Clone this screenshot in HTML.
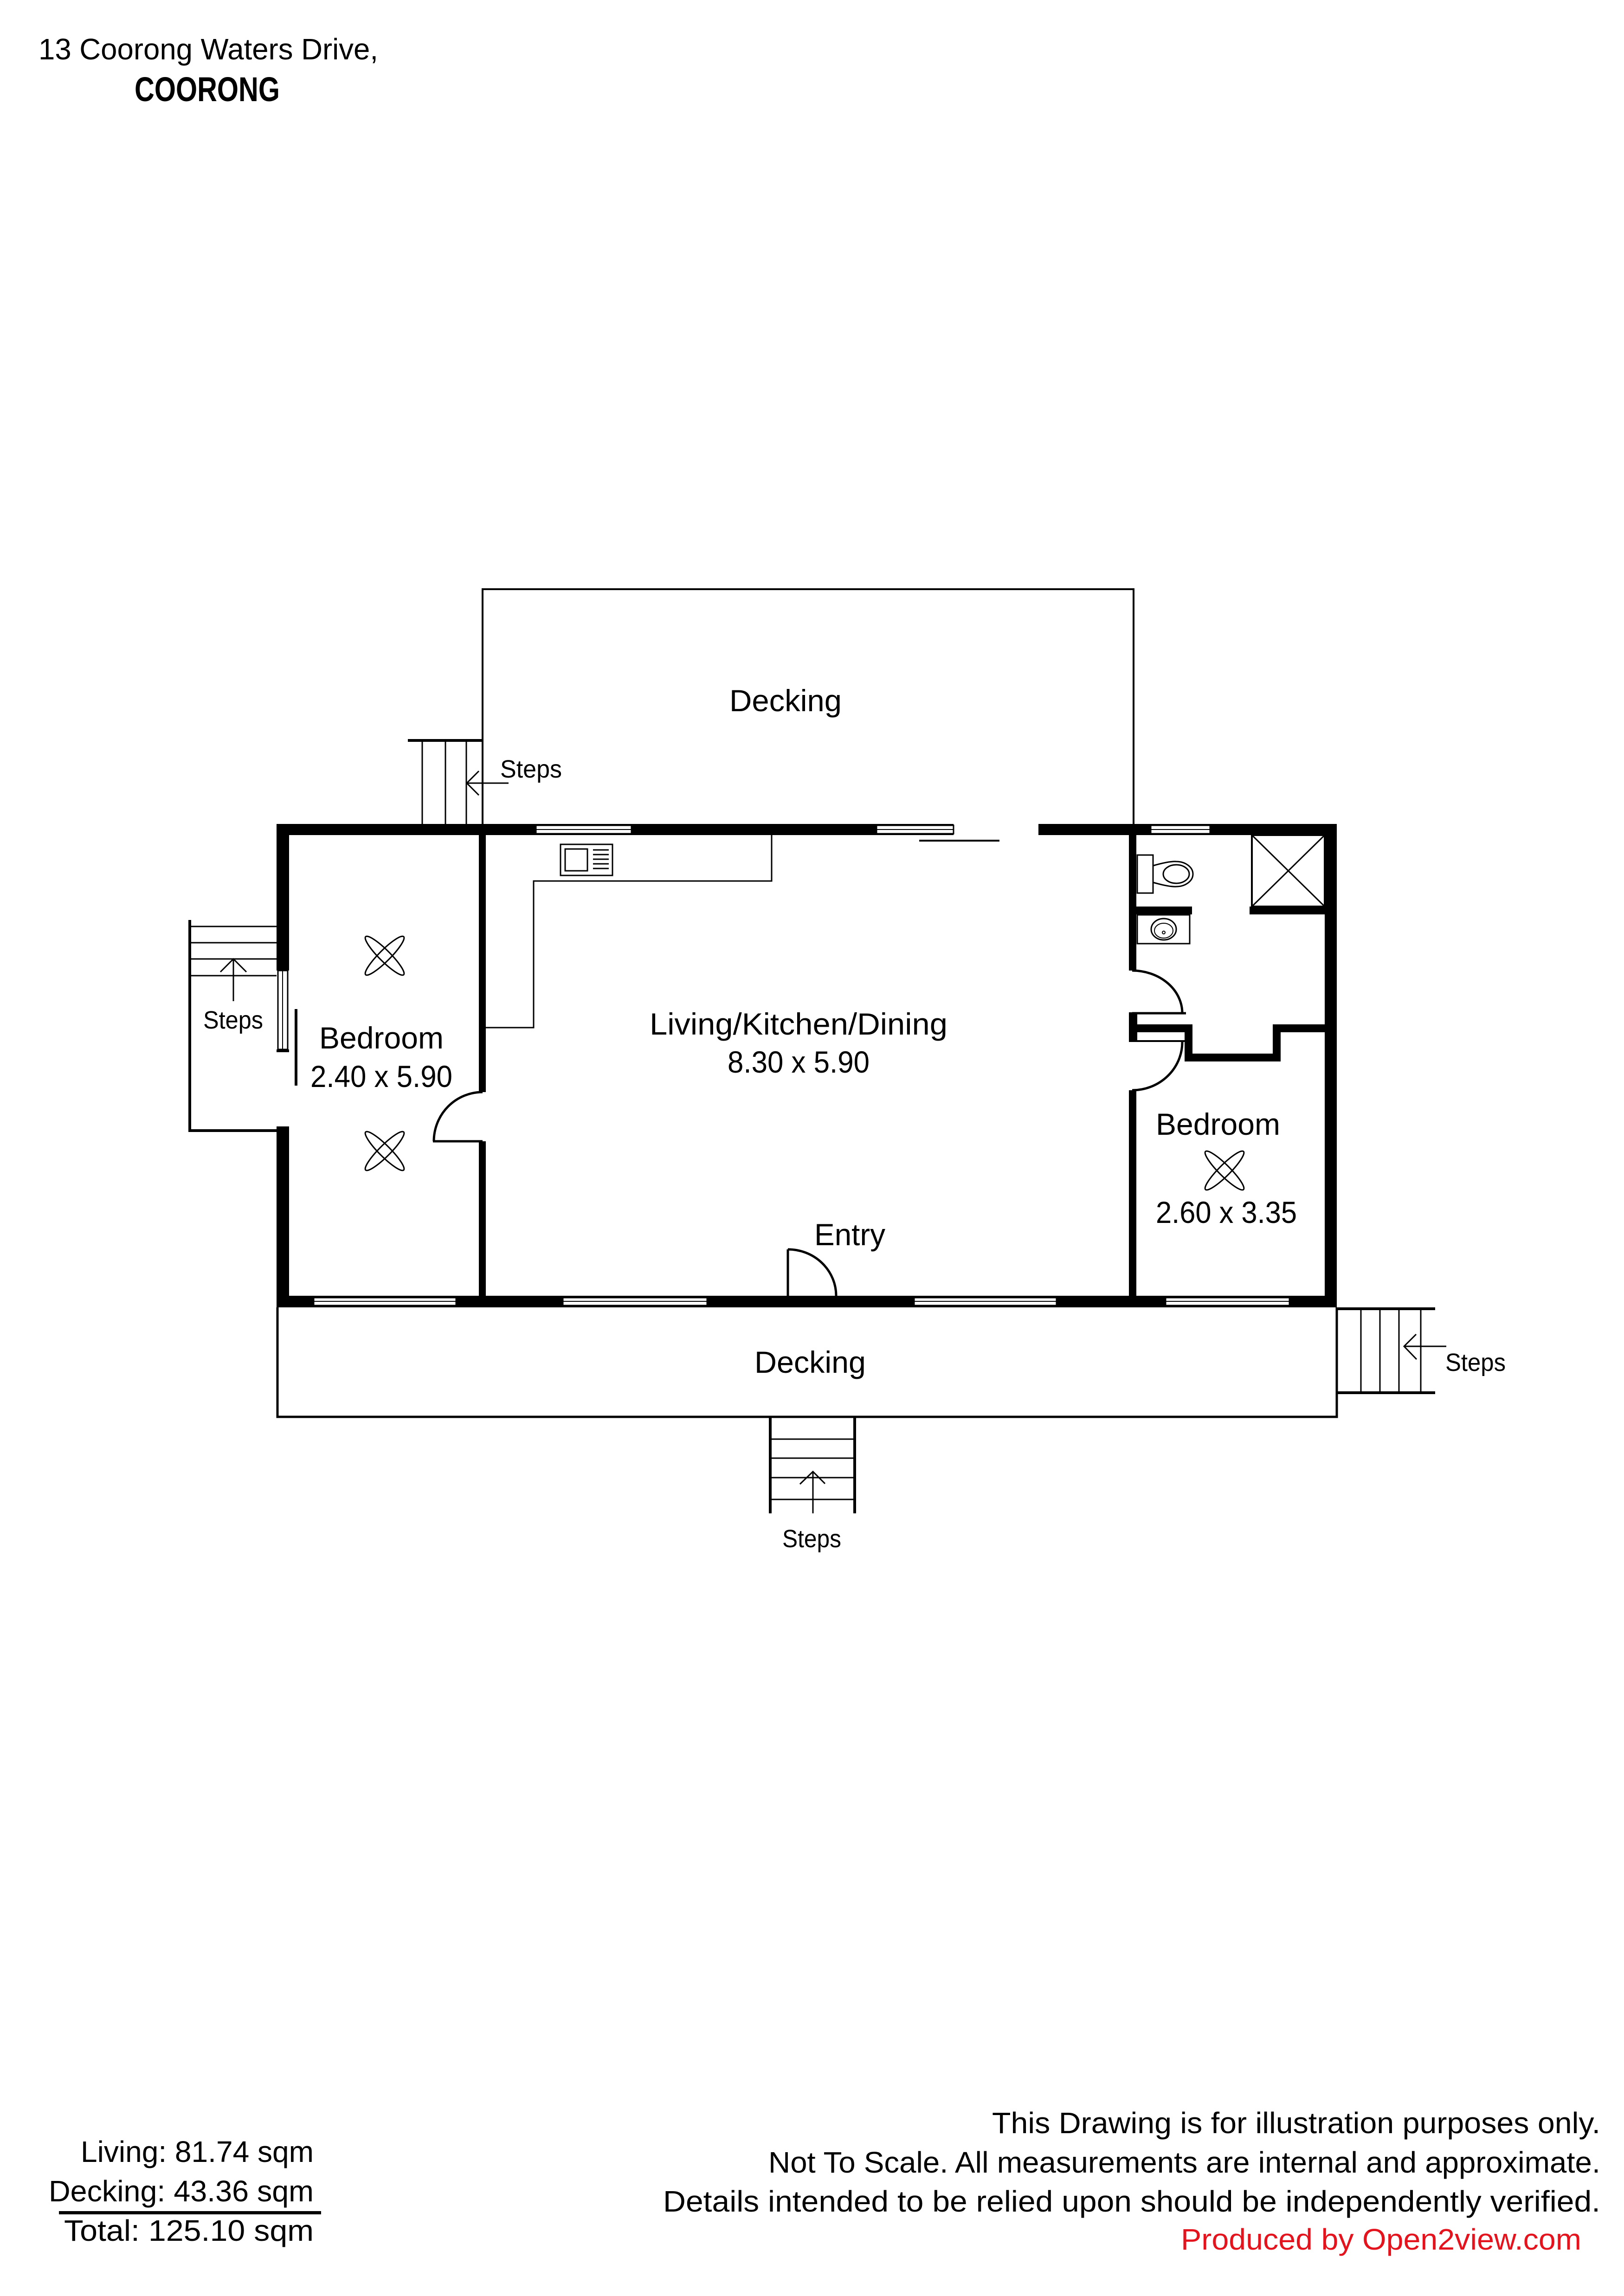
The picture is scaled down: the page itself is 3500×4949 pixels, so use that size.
<!DOCTYPE html>
<html><head><meta charset="utf-8"><style>
html,body{margin:0;padding:0;background:#fff;}
svg{display:block;}
text{font-family:"Liberation Sans",sans-serif;fill:#000;}
</style></head><body>
<svg width="3500" height="4949" viewBox="0 0 3500 4949" xmlns="http://www.w3.org/2000/svg">
<rect width="3500" height="4949" fill="#fff"/>
<!-- header -->
<text x="83" y="128" font-size="64" textLength="732" lengthAdjust="spacingAndGlyphs">13 Coorong Waters Drive,</text>
<text x="290" y="218" font-size="74" font-weight="bold" textLength="313" lengthAdjust="spacingAndGlyphs">COORONG</text>

<g fill="none" stroke="#000">
<!-- top decking -->
<polyline points="1040,1776 1040,1270 2443,1270 2443,1776" stroke-width="4"/>
<!-- top steps -->
<line x1="879" y1="1596" x2="1042" y2="1596" stroke-width="6"/>
<line x1="910" y1="1596" x2="910" y2="1776" stroke-width="3"/>
<line x1="960" y1="1596" x2="960" y2="1776" stroke-width="3"/>
<line x1="1005" y1="1596" x2="1005" y2="1776" stroke-width="3"/>
<line x1="1006" y1="1688" x2="1096" y2="1688" stroke-width="3"/>
<polyline points="1032,1662 1006,1688 1032,1714" stroke-width="3"/>
<!-- left steps -->
<polyline points="409,1983 409,2437 598,2437" stroke-width="6"/>
<line x1="409" y1="1997" x2="596" y2="1997" stroke-width="3"/>
<line x1="409" y1="2032" x2="596" y2="2032" stroke-width="3"/>
<line x1="409" y1="2067" x2="596" y2="2067" stroke-width="3"/>
<line x1="409" y1="2103" x2="596" y2="2103" stroke-width="3"/>
<line x1="503" y1="2067" x2="503" y2="2158" stroke-width="3"/>
<polyline points="475,2095 503,2067 531,2095" stroke-width="3"/>
<line x1="638" y1="2175" x2="638" y2="2340" stroke-width="6"/>
<!-- lower decking -->
<polyline points="598,2818 598,3054 2881,3054 2881,2818" stroke-width="5"/>
<!-- right steps -->
<line x1="2881" y1="2821" x2="3093" y2="2821" stroke-width="6"/>
<line x1="2881" y1="3002" x2="3093" y2="3002" stroke-width="6"/>
<line x1="2933" y1="2821" x2="2933" y2="3002" stroke-width="3"/>
<line x1="2974" y1="2821" x2="2974" y2="3002" stroke-width="3"/>
<line x1="3015" y1="2821" x2="3015" y2="3002" stroke-width="3"/>
<line x1="3062" y1="2821" x2="3062" y2="3002" stroke-width="3"/>
<line x1="3026" y1="2902" x2="3117" y2="2902" stroke-width="3"/>
<polyline points="3052,2876 3026,2902 3053,2930" stroke-width="3"/>
<!-- bottom steps -->
<line x1="1660" y1="3054" x2="1660" y2="3262" stroke-width="6"/>
<line x1="1842" y1="3054" x2="1842" y2="3262" stroke-width="6"/>
<line x1="1660" y1="3102" x2="1842" y2="3102" stroke-width="3"/>
<line x1="1660" y1="3143" x2="1842" y2="3143" stroke-width="3"/>
<line x1="1660" y1="3185" x2="1842" y2="3185" stroke-width="3"/>
<line x1="1660" y1="3232" x2="1842" y2="3232" stroke-width="3"/>
<line x1="1752" y1="3172" x2="1752" y2="3262" stroke-width="3"/>
<polyline points="1724,3199 1752,3172 1778,3198" stroke-width="3"/>
<!-- kitchen bench -->
<polyline points="1047,2215 1150,2215 1150,1899 1663,1899 1663,1800" stroke-width="3"/>
<rect x="1208" y="1820" width="112" height="67" stroke-width="3"/>
<rect x="1218" y="1830" width="48" height="47" stroke-width="3"/>
<line x1="1278" y1="1832" x2="1312" y2="1832" stroke-width="3"/>
<line x1="1278" y1="1842" x2="1312" y2="1842" stroke-width="3"/>
<line x1="1278" y1="1852" x2="1312" y2="1852" stroke-width="3"/>
<line x1="1278" y1="1862" x2="1312" y2="1862" stroke-width="3"/>
<line x1="1278" y1="1872" x2="1312" y2="1872" stroke-width="3"/>
<!-- sliding door -->
<line x1="1981" y1="1812" x2="2154" y2="1812" stroke-width="4"/>
<!-- entry door -->
<line x1="1698" y1="2693" x2="1698" y2="2795" stroke-width="5"/>
<path d="M1698,2693 A104,100 0 0 1 1802,2793" stroke-width="5"/>
<!-- bedroom1 door -->
<line x1="933" y1="2460" x2="1040" y2="2460" stroke-width="5"/>
<path d="M935,2460 A105,106 0 0 1 1040,2354" stroke-width="5"/>
<!-- bath door -->
<path d="M2440,2092 A108,92 0 0 1 2548,2184" stroke-width="5"/>
<line x1="2440" y1="2184" x2="2556" y2="2184" stroke-width="5"/>
<!-- bedroom2 door -->
<line x1="2451" y1="2244" x2="2553" y2="2244" stroke-width="4"/>
<path d="M2548,2246 A108,104 0 0 1 2440,2350" stroke-width="5"/>
<!-- shower -->
<rect x="2698" y="1800" width="157" height="154" stroke-width="4"/>
<line x1="2698" y1="1800" x2="2855" y2="1954" stroke-width="3"/>
<line x1="2855" y1="1800" x2="2698" y2="1954" stroke-width="3"/>
<!-- toilet -->
<rect x="2451" y="1843" width="34" height="82" stroke-width="3"/>
<path d="M2485,1866 Q2520,1856 2535,1857 A36,27 0 1 1 2535,1911 Q2520,1912 2485,1902" stroke-width="3"/>
<ellipse cx="2535" cy="1884" rx="28" ry="20" stroke-width="3"/>
<!-- vanity -->
<rect x="2451" y="1972" width="113" height="62" stroke-width="3"/>
<ellipse cx="2508" cy="2003" rx="27" ry="23" stroke-width="3"/>
<ellipse cx="2508" cy="2006" rx="20" ry="16" stroke-width="2"/>
<circle cx="2508" cy="2010" r="3" stroke-width="2"/>
<!-- fans -->
<g stroke-width="3">
<ellipse cx="829" cy="2060" rx="58" ry="12" transform="rotate(45 829 2060)"/>
<ellipse cx="829" cy="2060" rx="58" ry="12" transform="rotate(-45 829 2060)"/>
<ellipse cx="829" cy="2481" rx="58" ry="12" transform="rotate(45 829 2481)"/>
<ellipse cx="829" cy="2481" rx="58" ry="12" transform="rotate(-45 829 2481)"/>
<ellipse cx="2639" cy="2523" rx="58" ry="12" transform="rotate(45 2639 2523)"/>
<ellipse cx="2639" cy="2523" rx="58" ry="12" transform="rotate(-45 2639 2523)"/>
</g>
</g>

<!-- walls -->
<g fill="#000">
<rect x="596" y="1776" width="1459" height="24"/>
<rect x="2238" y="1776" width="643" height="24"/>
<rect x="596" y="1776" width="27" height="316"/>
<rect x="596" y="2262" width="27" height="6"/>
<rect x="596" y="2428" width="27" height="390"/>
<rect x="2855" y="1776" width="26" height="1042"/>
<rect x="596" y="2793" width="2285" height="25"/>
<rect x="1032" y="1800" width="15" height="554"/>
<rect x="1032" y="2460" width="15" height="333"/>
<rect x="2433" y="1800" width="16" height="292"/>
<rect x="2433" y="2182" width="18" height="64"/>
<rect x="2433" y="2350" width="16" height="443"/>
<rect x="2433" y="2208" width="137" height="17"/>
<rect x="2553" y="2208" width="17" height="80"/>
<rect x="2553" y="2271" width="207" height="17"/>
<rect x="2743" y="2208" width="17" height="80"/>
<rect x="2743" y="2208" width="112" height="17"/>
<rect x="2433" y="1954" width="136" height="17"/>
<rect x="2693" y="1954" width="162" height="17"/>
</g>
<!-- windows -->
<g fill="#fff" stroke="#000" stroke-width="3">
<rect x="1155" y="1779" width="206" height="18"/><line x1="1155" y1="1788" x2="1361" y2="1788" stroke-width="2"/>
<rect x="1889" y="1779" width="166" height="18"/><line x1="1889" y1="1788" x2="2055" y2="1788" stroke-width="2"/>
<rect x="2480" y="1779" width="128" height="18"/><line x1="2480" y1="1788" x2="2608" y2="1788" stroke-width="2"/>
<rect x="599" y="2092" width="21" height="170"/><line x1="609" y1="2092" x2="609" y2="2262" stroke-width="2"/>
<rect x="676" y="2797" width="307" height="17"/><line x1="676" y1="2805" x2="983" y2="2805" stroke-width="2"/>
<rect x="1213" y="2797" width="311" height="17"/><line x1="1213" y1="2805" x2="1524" y2="2805" stroke-width="2"/>
<rect x="1970" y="2797" width="307" height="17"/><line x1="1970" y1="2805" x2="2277" y2="2805" stroke-width="2"/>
<rect x="2512" y="2797" width="267" height="17"/><line x1="2512" y1="2805" x2="2779" y2="2805" stroke-width="2"/>
</g>

<!-- labels -->
<g font-size="66">
<text x="1572" y="1533" textLength="242" lengthAdjust="spacingAndGlyphs">Decking</text>
<text x="1400" y="2230" textLength="642" lengthAdjust="spacingAndGlyphs">Living/Kitchen/Dining</text>
<text x="1568" y="2312" textLength="306" lengthAdjust="spacingAndGlyphs">8.30 x 5.90</text>
<text x="688" y="2260" textLength="268" lengthAdjust="spacingAndGlyphs">Bedroom</text>
<text x="669" y="2343" textLength="306" lengthAdjust="spacingAndGlyphs">2.40 x 5.90</text>
<text x="2491" y="2446" textLength="268" lengthAdjust="spacingAndGlyphs">Bedroom</text>
<text x="2491" y="2636" textLength="304" lengthAdjust="spacingAndGlyphs">2.60 x 3.35</text>
<text x="1755" y="2684" textLength="153" lengthAdjust="spacingAndGlyphs">Entry</text>
<text x="1626" y="2959" textLength="240" lengthAdjust="spacingAndGlyphs">Decking</text>
</g>
<g font-size="54">
<text x="1078" y="1676" textLength="133" lengthAdjust="spacingAndGlyphs">Steps</text>
<text x="438" y="2217" textLength="129" lengthAdjust="spacingAndGlyphs">Steps</text>
<text x="3115" y="2955" textLength="130" lengthAdjust="spacingAndGlyphs">Steps</text>
<text x="1686" y="3335" textLength="127" lengthAdjust="spacingAndGlyphs">Steps</text>
</g>

<!-- footer -->
<g font-size="64">
<text x="2138" y="4598" textLength="1311" lengthAdjust="spacingAndGlyphs">This Drawing is for illustration purposes only.</text>
<text x="1656" y="4683" textLength="1793" lengthAdjust="spacingAndGlyphs">Not To Scale. All measurements are internal and approximate.</text>
<text x="1429" y="4767" textLength="2020" lengthAdjust="spacingAndGlyphs">Details intended to be relied upon should be independently verified.</text>
<text x="2545" y="4849" textLength="863" lengthAdjust="spacingAndGlyphs" style="fill:#e3141d">Produced by Open2view.com</text>
<text x="174" y="4660" textLength="502" lengthAdjust="spacingAndGlyphs">Living: 81.74 sqm</text>
<text x="105" y="4745" textLength="571" lengthAdjust="spacingAndGlyphs">Decking: 43.36 sqm</text>
<text x="138" y="4830" textLength="538" lengthAdjust="spacingAndGlyphs">Total:   125.10 sqm</text>
</g>
<rect x="127" y="4766" width="565" height="7" fill="#000"/>
</svg>
</body></html>
